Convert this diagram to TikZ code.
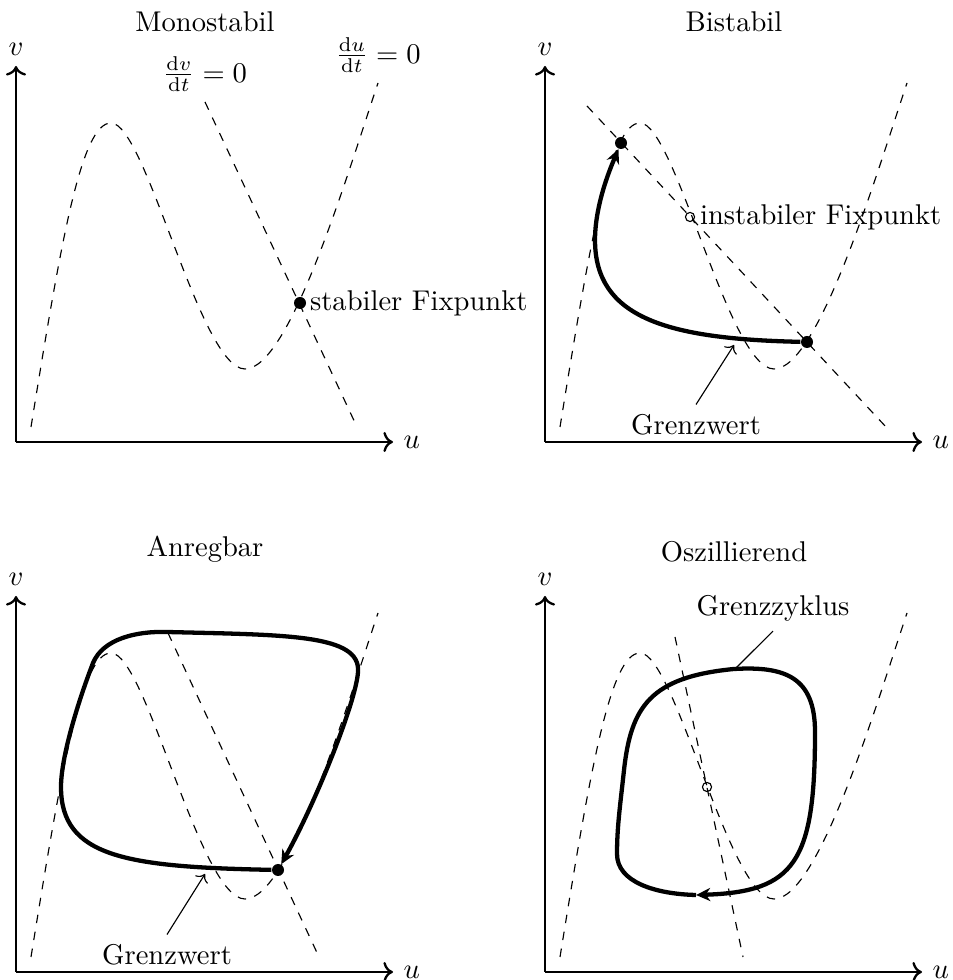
\documentclass[tikz,border=0pt]{standalone}
\usepackage{amsmath}
\usepackage{tikz}
\usetikzlibrary{arrows.meta,positioning}
\newcommand{\Kubik}[1]{%
  \draw[nullkline] (15,15) .. controls (45,200) and (65,319) .. (95,319)
    .. controls (130,319) and (184,73) .. (229,73)
    .. controls (274,73) and (332,270) .. (362,359) coordinate (#1);}
\newcommand{\Achsen}[1]{%
  \draw[achse,->] (0,0) coordinate (o#1) -- (377,0) node[right] (u#1) {$u$};
  \draw[achse,->] (o#1) -- (0,376) node[above] (v#1) {$v$};}

\begin{document}
\begin{tikzpicture}[x=0.35pt,y=0.35pt,
  nullkline/.style={dashed},
  achse/.style={thick},
  bahn/.style={line width=1.5pt,>={Stealth[length=5pt,width=4.6pt]}},
  stabil/.style={circle,fill,inner sep=0pt,minimum size=4.2pt},
  instabil/.style={circle,draw,inner sep=0pt,minimum size=3.2pt}]
  \useasboundingbox (0,0) rectangle (952,980);

  %% Monostabil
  \begin{scope}[shift={(16,538)}]
    \Achsen{1}
    \node[above] (titel1) at (189,400) {Monostabil};
    \Kubik{k1}
    \node[above] (du1) at (k1) {$\frac{\mathrm{d}u}{\mathrm{d}t} = 0$};
    \draw[nullkline] (189,340) coordinate (g1) -- (341,15);
    \node[above] (dv1) at (g1) {$\frac{\mathrm{d}v}{\mathrm{d}t} = 0$};
    \node[stabil] (f1) at (284,139) {};
    \node[right=0pt of f1.center] (f1t) {stabiler Fixpunkt};
  \end{scope}

  %% Bistabil
  \begin{scope}[shift={(545,538)}]
    \Achsen{2}
    \node[above] (titel2) at (189,400) {Bistabil};
    \Kubik{k2}
    \draw[nullkline] (42,336) -- (341,15);
    \node[stabil] (f2a) at (76,299) {};
    \node[stabil] (f2b) at (262,100) {};
    \node[instabil] (f2c) at (145,225) {};
    \node[right=0pt of f2c.center] (f2t) {instabiler Fixpunkt};
    \draw[bahn,->] (f2b) .. controls (120,103) and (50,125) .. (50,202)
      .. controls (50,240) and (68,280) .. (f2a);
    \node (gw2) at (151,17) {Grenzwert};
    \coordinate (p2) at (189,97);
    \draw[->] (gw2.north) -- (p2);
  \end{scope}

  %% Anregbar
  \begin{scope}[shift={(16,8)}]
    \Achsen{3}
    \node[above] (titel3) at (189,400) {Anregbar};
    \Kubik{k3}
    \draw[nullkline] (152,339) -- (303,15);
    \node[stabil] (f3) at (262,102) {};
    \draw[bahn,->] (f3) .. controls (110,105) and (45,115) .. (45,185)
      .. controls (45,215) and (62,270) .. (77,309)
      .. controls (87,333) and (120,341) .. (151,340)
      .. controls (270,337) and (345,338) .. (342,300)
      .. controls (340,270) and (300,170) .. (f3);
    \node (gw3) at (151,17) {Grenzwert};
    \coordinate (p3) at (189,98);
    \draw[->] (gw3.north) -- (p3);
  \end{scope}

  %% Oszillierend
  \begin{scope}[shift={(545,8)}]
    \Achsen{4}
    \node[above] (titel4) at (189,400) {Oszillierend};
    \Kubik{k4}
    \draw[nullkline] (130,335) -- (198,15);
    \node[instabil] (f4) at (162,185) {};
    \coordinate (z4) at (151,77);
    \draw[bahn,<-] (z4) .. controls (250,80) and (270,110) .. (270,240)
      .. controls (270,295) and (240,306) .. (189,303)
      .. controls (105,295) and (86,265) .. (79,202)
      .. controls (75,165) and (72,145) .. (72,118)
      .. controls (72,90) and (110,78) .. (z4);
    \node (gz4) at (228,364) {Grenzzyklus};
    \coordinate (p4) at (191,304);
    \draw (gz4.south) -- (p4);
  \end{scope}
\end{tikzpicture}
\end{document}
